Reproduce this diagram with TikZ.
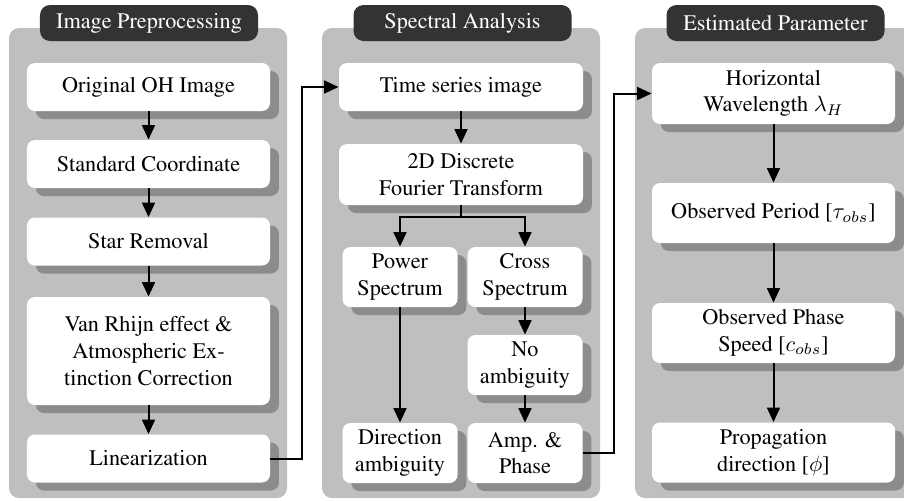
\documentclass[tikz,border=0pt]{standalone}
\usepackage[T1]{fontenc}
\usepackage{times}
\usetikzlibrary{arrows.meta,shadows}

\tikzset{
	panel/.style={fill=black!25, rounded corners=4.5pt},
	header/.style={fill=black!80, text=white, rounded corners=4.5pt, minimum width=98.1pt, minimum height=16.2pt, inner sep=0pt},
	box/.style={fill=white, rounded corners=3.6pt, align=center, inner sep=0pt, minimum width=109.35pt, minimum height=21.6pt,
		drop shadow={shadow xshift=4pt, shadow yshift=-3.6pt, fill=black!45, opacity=1}},
	half/.style={box, minimum width=51.75pt, minimum height=27pt},
	arr/.style={-{Triangle[length=6.5pt,width=5.8pt]}, line width=0.9pt},
}

\begin{document}
\begin{tikzpicture}[x=0.45pt, y=-0.45pt]
	\clip (0,0) rectangle (904,500);
	\useasboundingbox (0,0) rectangle (904,500);

	% panels
	\fill[panel] (9,28) rectangle (287,498);
	\fill[panel] (322,28) rectangle (600,498);
	\fill[panel] (635,28) rectangle (930,498);

	\node[header] (hA) at (149,23) {Image Preprocessing};
	\node[header] (hB) at (462.5,23) {Spectral Analysis};
	\node[header] (hC) at (775.5,23) {Estimated Parameter};

	% image preprocessing
	\node[box] (ohimg) at (148.5,87) {Original OH Image};
	\node[box] (stdc) at (148.5,164) {Standard Coordinate};
	\node[box] (star) at (148.5,241.5) {Star Removal};
	\node[box, minimum height=48.6pt] (vanr) at (148.5,351) {Van Rhijn effect \&\\Atmospheric Ex-\\tinction Correction};
	\node[box] (lin) at (148.5,458.5) {Linearization};

	% spectral analysis
	\node[box, minimum width=109.8pt] (ts) at (461,87) {Time series image};
	\node[box, minimum width=109.8pt, minimum height=27.45pt] (dft) at (461,174.5) {2D Discrete\\Fourier Transform};
	\node[half] (ps) at (400,277) {Power\\Spectrum};
	\node[half] (cs) at (525,277) {Cross\\Spectrum};
	\node[half] (noamb) at (525,365) {No\\ambiguity};
	\node[half] (dira) at (400,453) {Direction\\ambiguity};
	\node[half] (amp) at (525,453) {Amp. \&\\Phase};

	% estimated parameter
	\node[box, minimum height=27.45pt] (hw) at (773.5,93.5) {Horizontal\\Wavelength $\lambda_H$};
	\node[box, minimum height=27pt] (op) at (773.5,213) {Observed Period [$\tau_{obs}$]};
	\node[box, minimum height=27pt] (ops) at (773.5,333) {Observed Phase\\Speed [$c_{obs}$]};
	\node[box, minimum height=27pt] (pd) at (773.5,452.5) {Propagation\\direction [$\phi$]};

	\draw[arr] (ohimg) -- (stdc);
	\draw[arr] (stdc) -- (star);
	\draw[arr] (star) -- (vanr);
	\draw[arr] (vanr) -- (lin);

	\draw[arr] (ts) -- (dft);
	\coordinate (br) at (461,217);
	\draw[arr] (dft.south) -- (br) -| (ps.north);
	\draw[arr] (br) -| (cs.north);
	\draw[arr] (ps) -- (dira);
	\draw[arr] (cs) -- (noamb);
	\draw[arr] (noamb) -- (amp);

	\draw[arr] (hw) -- (op);
	\draw[arr] (op) -- (ops);
	\draw[arr] (ops) -- (pd);

	\coordinate (j1) at (302,458.5);
	\coordinate (j2) at (614,453);
	\draw[arr] (lin.east) -- (j1) |- (ts.west);
	\draw[arr] (amp.east) -- (j2) |- (hw.west);
\end{tikzpicture}
\end{document}
